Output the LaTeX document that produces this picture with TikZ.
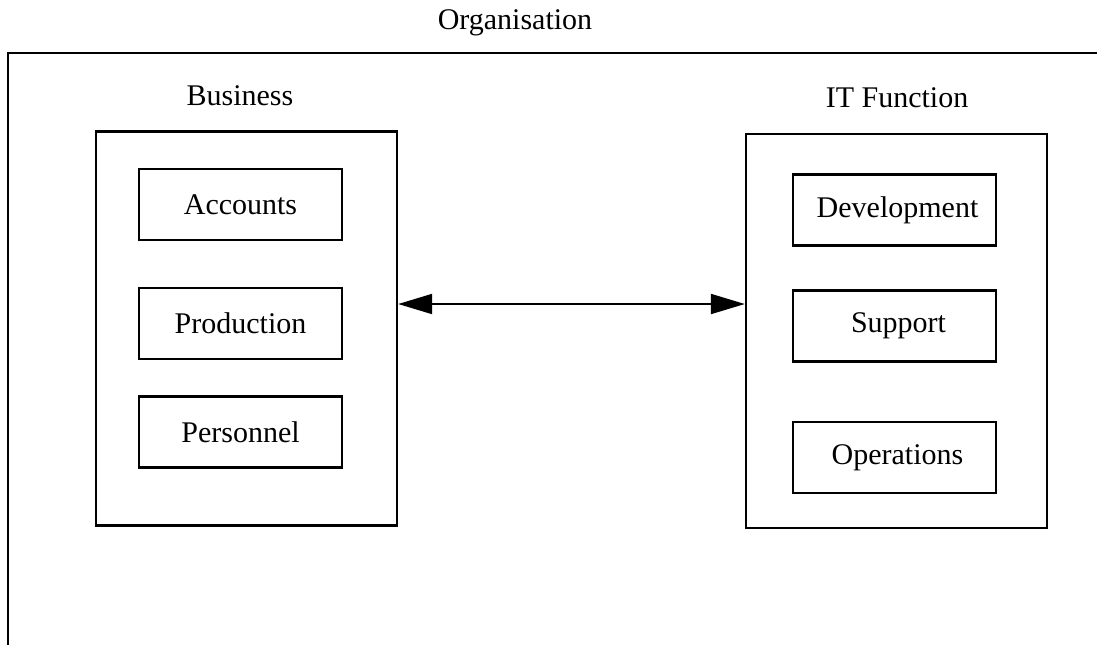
\documentclass[tikz,border=0pt]{standalone}
\usepackage{fontspec}
\setmainfont{Liberation Serif}
\usetikzlibrary{arrows.meta, positioning}

\begin{document}
\begin{tikzpicture}[
  x=0.5pt, y=-0.5pt,
  every node/.style={font=\fontsize{15}{18}\selectfont},
  title/.style={anchor=base, inner sep=0pt},
  group/.style={rectangle, draw=black, line width=1.2pt, minimum width=150.5pt,
                minimum height=197pt, inner sep=0pt},
  unit/.style={rectangle, draw=black, line width=1.2pt, minimum width=101.5pt,
               minimum height=35.5pt, inner sep=0pt},
  arrow/.style={{Triangle[length=17pt, width=10pt]}-{Triangle[length=17pt, width=10pt]},
                line width=1pt, black}
]
  \useasboundingbox (0,0) rectangle (1097,644);
  \clip (0,0) rectangle (1097,644);

  % Outer frame (runs off the page right and below)
  \node[title] at (515,29.5) (orglabel) {Organisation};
  \draw[line width=1.2pt] (8,680) |- (1130,53);

  % Business side
  \node[title] at (240,105) (buslabel) {Business};
  \node[group] at (246.5,328.5) (business) {};
  \node[unit] at (240.5,204.5) (accounts) {Accounts};
  \node[unit] at (240.5,323.5) (production) {Production};
  \node[unit] at (240.5,432) (personnel) {Personnel};

  % IT side
  \node[title] at (897,107.5) (itlabel) {IT Function};
  \node[group] at (896.5,331) (itfunc) {};
  \node[unit, text width=95pt, align=center] at (894.5,210) (development) {\hspace*{3pt}Development};
  \node[unit, text width=95pt, align=center] at (894.5,326) (support) {\hspace*{4pt}Support};
  \node[unit, text width=95pt, align=center] at (894.5,457.5) (operations) {\hspace*{3pt}Operations};

  % Link
  \draw[arrow] ([yshift=12.25pt]business.east) -- ([yshift=13.5pt]itfunc.west);
\end{tikzpicture}
\end{document}
